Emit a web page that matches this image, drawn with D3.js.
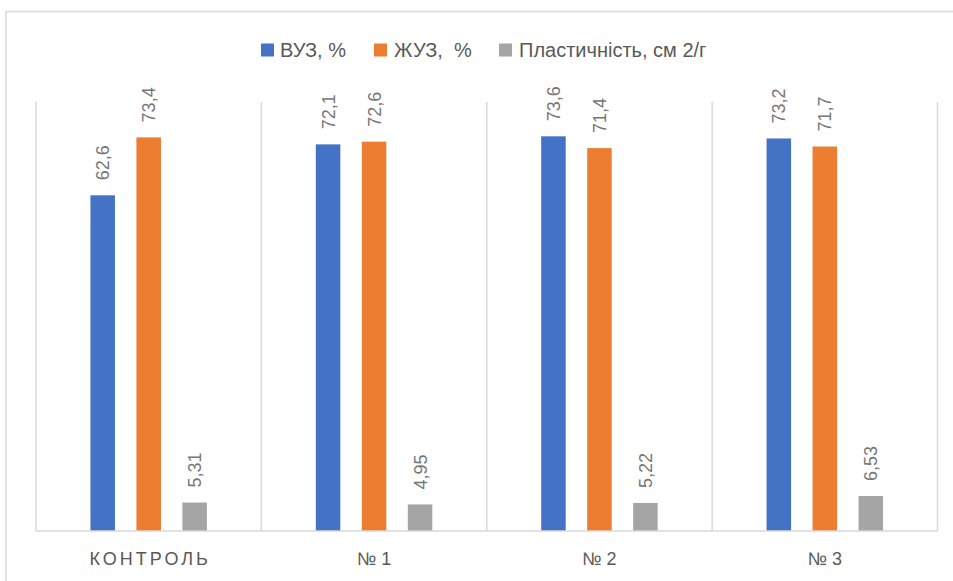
<!DOCTYPE html>
<html>
<head>
<meta charset="utf-8">
<script src="https://cdn.jsdelivr.net/npm/d3@7"></script>
<style>
  html, body { margin: 0; padding: 0; background: #fff; }
  svg { display: block; font-family: "Liberation Sans", Arial, sans-serif; }
</style>
</head>
<body>
<svg id="chart" width="953" height="581"></svg>
<script>
// Categories and measured series
const categories = ["КОНТРОЛЬ", "№ 1", "№ 2", "№ 3"];
const seriesNames = ["ВУЗ, %", "ЖУЗ,  %", "Пластичність, см 2/г"];
const vuz = [62.6, 72.1, 73.6, 73.2];
const zhuz = [73.4, 72.6, 71.4, 71.7];
const plast = [5.31, 4.95, 5.22, 6.53];
const valueLabels = [
  ["62,6", "72,1", "73,6", "73,2"],
  ["73,4", "72,6", "71,4", "71,7"],
  ["5,31", "4,95", "5,22", "6,53"]
];
const colors = ["#4472C4", "#ED7D31", "#A5A5A5"];

const series = [vuz, zhuz, plast];

const svg = d3.select("#chart");
const plot = { left: 36, right: 937.5, top: 102, bottom: 531 };

// Outer chart frame (extends past the right and bottom edges)
svg.append("rect")
  .attr("x", 6).attr("y", 11.5)
  .attr("width", 980).attr("height", 620)
  .attr("fill", "none")
  .attr("stroke", "#d9d9d9")
  .attr("stroke-width", 1.5);

const x0 = d3.scaleBand()
  .domain(categories)
  .range([plot.left, plot.right])
  .paddingInner(0).paddingOuter(0);

const groupWidth = 116.5;
const x1 = d3.scaleBand()
  .domain(d3.range(series.length))
  .range([0, groupWidth])
  .paddingInner(0.467).paddingOuter(0);

const y = d3.scaleLinear().domain([0, 80]).range([plot.bottom, plot.top]);

// Vertical separators between categories
const seps = categories.map(c => x0(c)).concat([x0.range()[1]]);
svg.append("g").selectAll("line")
  .data(seps)
  .join("line")
  .attr("x1", d => d).attr("x2", d => d)
  .attr("y1", plot.top).attr("y2", plot.bottom)
  .attr("stroke", "#d9d9d9")
  .attr("stroke-width", 1.5);

// Bars with rotated value labels
const groups = svg.append("g").selectAll("g")
  .data(categories)
  .join("g")
  .attr("transform", c => `translate(${x0(c) + (x0.bandwidth() - groupWidth) / 2},0)`);

groups.each(function (c, ci) {
  const g = d3.select(this);
  series.forEach((s, si) => {
    const v = s[ci];
    const bx = x1(si);
    g.append("rect")
      .attr("x", bx)
      .attr("y", y(v))
      .attr("width", x1.bandwidth())
      .attr("height", y(0) - y(v))
      .attr("fill", colors[si]);
    const cx = bx + x1.bandwidth() / 2;
    const ty = y(v) - 15;
    g.append("text")
      .attr("transform", `translate(${cx + 6.5},${ty}) rotate(-90)`)
      .attr("text-anchor", "start")
      .attr("font-size", 18)
      .attr("fill", "#767676")
      .text(valueLabels[si][ci]);
  });
});

// Baseline
svg.append("line")
  .attr("x1", plot.left).attr("x2", plot.right)
  .attr("y1", plot.bottom).attr("y2", plot.bottom)
  .attr("stroke", "#d9d9d9")
  .attr("stroke-width", 1.5);

// Category axis labels
const xAxis = svg.append("g")
  .attr("transform", `translate(0,${plot.bottom})`)
  .call(d3.axisBottom(x0).tickSize(0).tickPadding(0));
xAxis.select(".domain").remove();
xAxis.selectAll("text")
  .attr("y", 34)
  .attr("dy", 0)
  .attr("font-size", 18)
  .attr("font-family", "Liberation Sans, Arial, sans-serif")
  .attr("fill", "#595959")
  .each(function (d) {
    const spaced = d.length > 4;
    d3.select(this)
      .style("letter-spacing", spaced ? "3px" : "0px")
      .attr("dx", spaced ? 1.5 : 0);
  });

// Legend
const legendItems = [
  { sx: 261, tx: 280 },
  { sx: 374, tx: 394 },
  { sx: 499, tx: 519 }
];
const legend = svg.append("g");
seriesNames.forEach((name, i) => {
  legend.append("rect")
    .attr("x", legendItems[i].sx).attr("y", 43.5)
    .attr("width", 13).attr("height", 13)
    .attr("fill", colors[i]);
  legend.append("text")
    .attr("x", legendItems[i].tx).attr("y", 57)
    .attr("font-size", 20)
    .attr("fill", "#595959")
    .attr("xml:space", "preserve")
    .style("white-space", "pre")
    .text(name);
});
</script>
</body>
</html>
